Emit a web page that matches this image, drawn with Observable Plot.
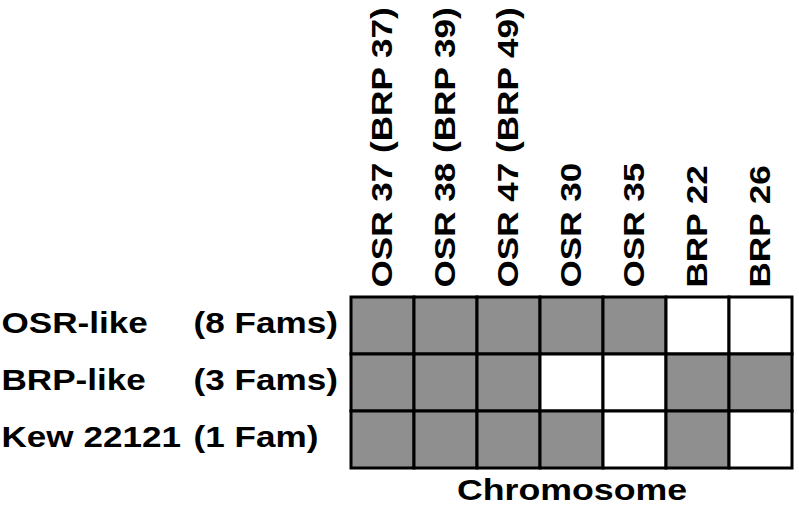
<!DOCTYPE html>
<html>
<head>
<meta charset="utf-8">
<script src="https://cdn.jsdelivr.net/npm/d3@7"></script>
<script src="https://cdn.jsdelivr.net/npm/@observablehq/plot@0.6"></script>
<style>
  html, body { margin: 0; padding: 0; background: #fff; }
  #chart svg { display: block; }
</style>
</head>
<body>
<div id="chart"></div>
<script>
const columns = ["OSR 37 (BRP 37)", "OSR 38 (BRP 39)", "OSR 47 (BRP 49)", "OSR 30", "OSR 35", "BRP 22", "BRP 26"];
const rows = ["OSR-like", "BRP-like", "Kew 22121"];
const rowCounts = ["(8 Fams)", "(3 Fams)", "(1 Fam)"];
const presenceOSRlike = [1, 1, 1, 1, 1, 0, 0];
const presenceBRPlike = [1, 1, 1, 0, 0, 1, 1];
const presenceKew = [1, 1, 1, 1, 0, 1, 0];
const xLabel = "Chromosome";

const presence = [presenceOSRlike, presenceBRPlike, presenceKew];
const cells = [];
rows.forEach((r, i) => columns.forEach((c, j) => cells.push({row: r, col: c, v: presence[i][j]})));
const rowTable = rows.map((r, i) => ({row: r, count: rowCounts[i]}));

const font = "'Liberation Sans', Arial, Helvetica, sans-serif";
const mL = 351, mT = 297;

const chart = Plot.plot({
  width: 799,
  height: 506,
  marginLeft: mL,
  marginRight: 7,
  marginTop: mT,
  marginBottom: 38,
  style: {fontFamily: font, fontWeight: "bold", background: "#fff", color: "#000"},
  x: {type: "band", domain: columns, padding: 0},
  y: {type: "band", domain: rows, padding: 0},
  color: {type: "ordinal", domain: [0, 1], range: ["#ffffff", "#8f8f8f"]},
  marks: [
    Plot.cell(cells, {x: "col", y: "row", fill: d => d.v, stroke: "#000", strokeWidth: 3, inset: 0}),
    Plot.axisX({anchor: "top", tickRotate: -90, tickSize: 0, tickPadding: 10, fontSize: 29, fontWeight: "bold", label: null, className: "collab"}),
    Plot.axisY({ticks: [], label: null}),
    Plot.text(rowTable, {y: "row", text: "row", frameAnchor: "left", textAnchor: "start", dx: -(mL - 1), dy: -3, fontSize: 30, fontWeight: "bold", className: "rowlab"}),
    Plot.text(rowTable, {y: "row", text: "count", frameAnchor: "left", textAnchor: "start", dx: -(mL - 193), dy: -3, fontSize: 30, fontWeight: "bold", className: "rowlab"}),
    Plot.text([xLabel], {frameAnchor: "bottom", textAnchor: "middle", dy: 31, fontSize: 30, fontWeight: "bold", className: "xlab"})
  ]
});
document.getElementById("chart").appendChild(chart);

function stretch(sel, k) {
  d3.select(chart).selectAll(sel).each(function () {
    const len = this.getComputedTextLength();
    if (len > 0) {
      this.setAttribute("textLength", len * k);
      this.setAttribute("lengthAdjust", "spacingAndGlyphs");
    }
  });
}
stretch(".collab text", 1.21);
stretch(".rowlab text", 1.17);
stretch(".xlab text", 1.19);
</script>
</body>
</html>
